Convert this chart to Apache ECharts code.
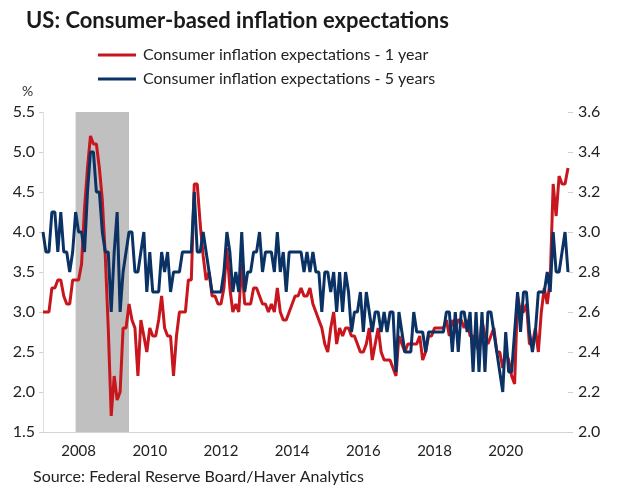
<!DOCTYPE html>
<html>
<head>
<meta charset="utf-8">
<script src="https://cdn.jsdelivr.net/npm/echarts@6/dist/echarts.min.js"></script>
<style>
html,body{margin:0;padding:0;background:#fff;}
#chart{width:630px;height:498px;}
</style>
</head>
<body>
<div id="chart"></div>
<script>
// Monthly categories Jan 2007 .. Oct 2021
const months = [];
for (let y = 2007; y <= 2021; y++) {
  for (let m = 1; m <= 12; m++) {
    if (y === 2021 && m > 10) break;
    months.push(y + '-' + (m < 10 ? '0' + m : m));
  }
}

// Consumer inflation expectations - 1 year (left axis, %)
const oneYear = [
  3.0, 3.0, 3.0, 3.3, 3.3, 3.4, 3.4, 3.2, 3.1, 3.1, 3.4, 3.4,
  3.4, 3.6, 4.3, 4.8, 5.2, 5.1, 5.1, 4.8, 4.4, 3.7, 2.8, 1.7,
  2.2, 1.9, 2.0, 2.8, 2.8, 3.1, 2.9, 2.8, 2.2, 2.9, 2.7, 2.5,
  2.8, 2.7, 2.7, 2.9, 3.2, 2.8, 2.7, 2.7, 2.2, 2.7, 3.0, 3.0,
  3.0, 3.4, 3.4, 4.6, 4.6, 4.1, 3.7, 3.4, 3.5, 3.2, 3.2, 3.1,
  3.1, 3.3, 3.8, 3.3, 3.0, 3.1, 3.0, 3.6, 3.1, 3.1, 3.1, 3.3,
  3.3, 3.2, 3.1, 3.1, 3.0, 3.1, 3.0, 3.3, 3.0, 2.9, 2.9, 3.0,
  3.1, 3.2, 3.2, 3.3, 3.2, 3.2, 3.3, 3.1, 3.0, 2.9, 2.8, 2.6,
  2.5, 2.8, 3.0, 2.6, 2.8, 2.7, 2.8, 2.8, 2.7, 2.7, 2.6, 2.5,
  2.5, 2.6, 2.8, 2.4, 2.6, 2.8, 2.5, 2.4, 2.4, 2.4, 2.3, 2.2,
  2.7, 2.6, 2.5, 2.6, 2.6, 2.6, 2.6, 2.7, 2.4, 2.5, 2.7, 2.7,
  2.8, 2.8, 2.8, 2.8, 2.9, 2.7, 2.9, 2.8, 2.9, 2.9, 2.8, 2.9,
  2.7, 2.7, 2.6, 2.5, 2.9, 2.7, 2.6, 2.7, 2.8, 2.5, 2.5, 2.3,
  2.5, 2.4, 2.2, 2.1, 3.2, 3.0, 3.0, 3.1, 2.6, 2.6, 2.8, 2.5,
  3.0, 3.3, 3.1, 3.4, 4.6, 4.2, 4.7, 4.6, 4.6, 4.8
];

// Consumer inflation expectations - 5 years (right axis, %)
const fiveYears = [
  3.0, 2.9, 2.9, 3.1, 3.1, 2.9, 3.1, 2.9, 2.9, 2.8, 2.9, 3.1,
  3.0, 3.0, 2.9, 3.2, 3.4, 3.4, 3.2, 3.2, 3.0, 2.9, 2.9, 2.6,
  2.9, 3.1, 2.6, 2.8, 2.9, 3.0, 3.0, 2.8, 2.8, 2.9, 3.0, 2.7,
  2.9, 2.7, 2.7, 2.7, 2.9, 2.8, 2.9, 2.7, 2.8, 2.8, 2.8, 2.9,
  2.9, 2.9, 2.9, 3.2, 2.9, 2.9, 3.0, 2.9, 2.8, 2.7, 2.7, 2.7,
  2.7, 2.8, 3.0, 2.9, 2.7, 2.8, 2.7, 3.0, 2.7, 2.8, 2.8, 2.9,
  2.9, 3.0, 2.8, 2.9, 2.9, 2.9, 2.8, 3.0, 2.8, 2.9, 2.7, 2.9,
  2.9, 2.9, 2.9, 2.9, 2.8, 2.9, 2.8, 2.9, 2.8, 2.8, 2.6, 2.8,
  2.8, 2.7, 2.8, 2.6, 2.8, 2.6, 2.8, 2.7, 2.5, 2.6, 2.6, 2.7,
  2.5, 2.7, 2.6, 2.5, 2.6, 2.6, 2.5, 2.6, 2.5, 2.6, 2.6, 2.3,
  2.6, 2.5, 2.4, 2.4, 2.4, 2.6, 2.5, 2.5, 2.5, 2.4, 2.5, 2.5,
  2.5, 2.5, 2.5, 2.5, 2.6, 2.6, 2.4, 2.6, 2.4, 2.6, 2.6, 2.5,
  2.6, 2.3, 2.6, 2.3, 2.6, 2.3, 2.6, 2.6, 2.5, 2.4, 2.3, 2.2,
  2.5, 2.3, 2.3, 2.5, 2.7, 2.5, 2.7, 2.7, 2.5, 2.4, 2.5, 2.7,
  2.7, 2.7, 2.8, 2.7, 3.0, 2.8, 2.8, 2.9, 3.0, 2.8
];

// Recession shading
const recessionStart = '2007-12';
const recessionEnd = '2009-06';

// Tick labels
const xTickYears = ['2008', '2010', '2012', '2014', '2016', '2018', '2020'];
const leftTicks = { min: 1.5, max: 5.5, step: 0.5 };
const rightTicks = { min: 2.0, max: 3.6, step: 0.2 };

const FONT = 'Lato';
const RED = '#c8161e';
const BLUE = '#0a3264';

const chart = echarts.init(document.getElementById('chart'), null, { renderer: 'canvas' });

chart.setOption({
  animation: false,
  textStyle: { fontFamily: FONT },
  title: {
    text: 'US: Consumer-based inflation expectations',
    left: 21, top: 5,
    textStyle: { fontFamily: FONT, fontWeight: 'bold', fontSize: 22, color: '#1a1a1a' }
  },
  legend: {
    orient: 'vertical',
    left: 93, top: 40,
    icon: 'rect',
    itemWidth: 38, itemHeight: 3,
    itemGap: 4,
    textStyle: { fontFamily: FONT, fontSize: 16, color: '#222', lineHeight: 20, padding: [0, 0, 0, 2] },
    data: ['Consumer inflation expectations - 1 year', 'Consumer inflation expectations - 5 years']
  },
  graphic: [
    { type: 'text', left: 22, top: 84, style: { text: '%', font: '14px ' + FONT, fill: '#333' } },
    { type: 'text', left: 33, top: 469, style: { text: 'Source: Federal Reserve Board/Haver Analytics', font: '16px ' + FONT, fill: '#222' } }
  ],
  grid: { left: 43, right: 62, top: 112, bottom: 66, containLabel: false },
  xAxis: {
    type: 'category',
    data: months,
    boundaryGap: false,
    axisLine: { lineStyle: { color: '#d4d4d4', width: 1 } },
    axisTick: { show: false },
    axisLabel: {
      interval: (i, v) => v.endsWith('-01') && xTickYears.indexOf(v.slice(0, 4)) >= 0,
      formatter: v => v.slice(0, 4),
      fontFamily: FONT, fontSize: 15, color: '#222', margin: 12
    },
    splitLine: { show: false }
  },
  yAxis: [
    {
      type: 'value', min: leftTicks.min, max: leftTicks.max, interval: leftTicks.step,
      position: 'left',
      axisLine: { show: true, lineStyle: { color: '#e0e0e0' } },
      axisTick: { show: true, length: 4, lineStyle: { color: '#d0d0d0' } },
      axisLabel: { formatter: v => v.toFixed(1), fontFamily: FONT, fontSize: 16, color: '#222', margin: 8 },
      splitLine: { show: false }
    },
    {
      type: 'value', min: rightTicks.min, max: rightTicks.max, interval: rightTicks.step,
      position: 'right',
      axisLine: { show: false },
      axisTick: { show: true, length: 5, lineStyle: { color: '#d0d0d0' } },
      axisLabel: { formatter: v => v.toFixed(1), fontFamily: FONT, fontSize: 16, color: '#222', margin: 10 },
      splitLine: { show: false }
    }
  ],
  series: [
    {
      name: 'recession', type: 'line', data: [], z: 1, silent: true,
      markArea: {
        silent: true,
        itemStyle: { color: '#c0c0c0', opacity: 1 },
        data: [[{ xAxis: recessionStart }, { xAxis: recessionEnd }]]
      }
    },
    {
      name: 'Consumer inflation expectations - 1 year', type: 'line', yAxisIndex: 0,
      data: oneYear, showSymbol: false, z: 3,
      lineStyle: { color: RED, width: 3 }, itemStyle: { color: RED }
    },
    {
      name: 'Consumer inflation expectations - 5 years', type: 'line', yAxisIndex: 1,
      data: fiveYears, showSymbol: false, z: 4,
      lineStyle: { color: BLUE, width: 3 }, itemStyle: { color: BLUE }
    }
  ]
});
</script>
</body>
</html>
